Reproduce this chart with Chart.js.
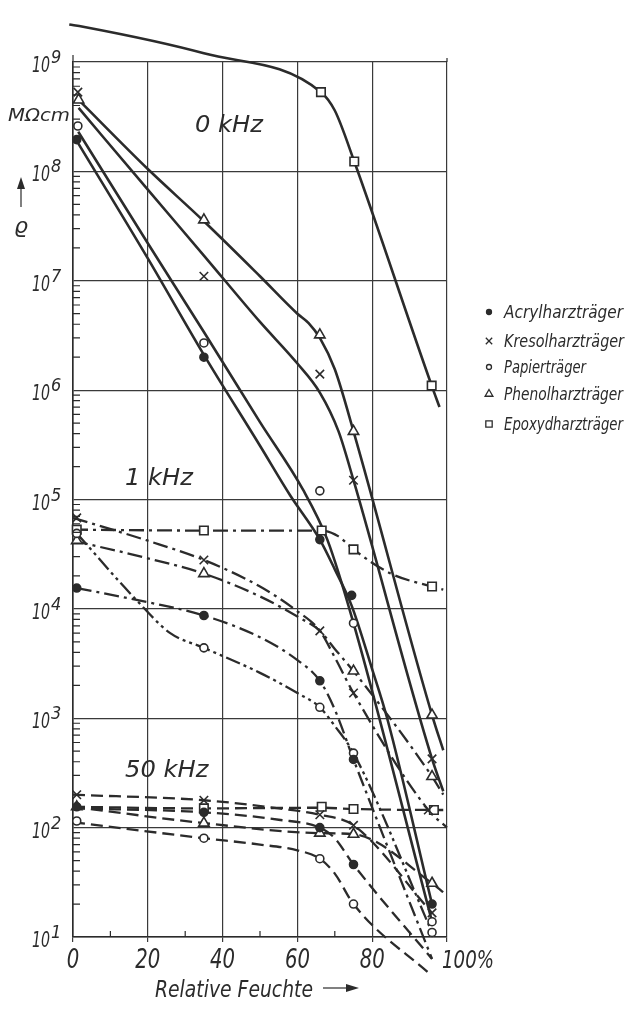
<!DOCTYPE html>
<html>
<head>
<meta charset="utf-8">
<script src="https://cdn.jsdelivr.net/npm/chart.js@4.4.1/dist/chart.umd.min.js"></script>
<style>
  html, body { margin: 0; background: #fff; }
  canvas { display: block; }
</style>
</head>
<body>
<canvas id="chart" width="631" height="1010"></canvas>
<script>
// Achsen
const humidityTicks = [0, 20, 40, 60, 80, 100];
const humidityLabels = ['0', '20', '40', '60', '80', '100%'];
const minorHumidity = [10, 30, 50, 70, 90];
const decadeExponents = [1, 2, 3, 4, 5, 6, 7, 8, 9];
const minorFactors = [2, 3, 4, 5, 6, 7, 8, 9];

const materials = ['Acrylharzträger', 'Kresolharzträger', 'Papierträger', 'Phenolharzträger', 'Epoxydharzträger'];

// 0 kHz – Messpunkte [rel. Feuchte %, rho MOhm cm]
const acryl0Pts = [[1, 1.95e8], [35, 2.0e6], [66, 4.3e4], [74.5, 1.33e4], [96, 20]];
const kresol0Pts = [[1.3, 5.3e8], [35, 1.1e7], [66, 1.4e6], [75, 1.5e5], [96, 425]];
const papier0Pts = [[1.3, 2.6e8], [35, 2.7e6], [66, 1.2e5], [75, 7.4e3], [96, 13.8]];
const phenol0Pts = [[1.5, 4.5e8], [35, 3.6e7], [66, 3.2e6], [75, 4.2e5], [96, 1070]];
const epoxy0Pts = [[2.7, 2.1e9], [35, 1.2e9], [66.3, 5.3e8], [75.2, 1.23e8], [95.9, 1.1e6]];

// 0 kHz – Kurvenverlauf
const acryl0Line = [[1, 1.9e8], [20, 1.6e7], [35, 2.1e6], [50, 3.1e5], [58, 1.1e5], [66, 4.3e4], [70, 2.3e4], [74.5, 1.07e4], [80, 2.8e3], [84, 1e3], [96, 20]];
const kresol0Line = [[1.5, 3.8e8], [20, 6.8e7], [35, 1.7e7], [50, 4.2e6], [60, 1.75e6], [66, 9.5e5], [71, 4.2e5], [75, 1.5e5], [96, 425], [99, 215]];
const papier0Line = [[1.4, 2.3e8], [20, 2.2e7], [35, 3.4e6], [50, 5.1e5], [61.5, 1.23e5], [68, 4.3e4], [75, 7.4e3], [96, 13.8]];
const phenol0Line = [[1.5, 4.5e8], [20, 1.05e8], [35, 3.5e7], [50, 1.1e7], [60, 5.0e6], [63, 4.1e6], [66, 3.0e6], [70, 1.55e6], [75, 4.2e5], [96, 1070], [99, 510]];
const epoxy0Line = [[-1, 2.2e9], [2.7, 2.1e9], [35, 1.2e9], [66.3, 5.3e8], [70, 3.6e8], [75.2, 1.23e8], [95.9, 1.1e6], [98, 7e5]];

// 1 kHz – Messpunkte
const acryl1Pts = [[1, 1.55e4], [35, 8.7e3], [66, 2.2e3], [75, 420]];
const kresol1Pts = [[1, 6.8e4], [35, 2.8e4], [66, 6.3e3], [75, 1.7e3], [95, 145]];
const papier1Pts = [[1, 4.9e4], [35, 4.4e3], [66, 1.26e3], [75, 480], [96, 11]];
const phenol1Pts = [[1, 4.2e4], [35, 2.1e4], [75, 2.7e3], [96, 293]];
const epoxy1Pts = [[1, 5.3e4], [35, 5.2e4], [66.5, 5.2e4], [75, 3.5e4], [96, 1.6e4]];

// 1 kHz – Kurvenverlauf
const acryl1Line = [[1, 1.55e4], [20, 1.15e4], [35, 8.7e3], [50, 5.5e3], [60, 3.4e3], [66, 2.2e3], [70, 1.2e3], [75, 420], [96, 6.3]];
const kresol1Line = [[0, 6.8e4], [20, 4.2e4], [35, 2.8e4], [50, 1.6e4], [60, 9.5e3], [66, 6.3e3], [70, 3.6e3], [75, 1.7e3], [95, 145], [100, 100]];
const papier1Line = [[1, 4.9e4], [17, 1.2e4], [26, 6.0e3], [35, 4.4e3], [50, 2.6e3], [60, 1.7e3], [66, 1.26e3], [70, 850], [75, 480], [96, 11]];
const phenol1Line = [[0, 4.2e4], [20, 2.9e4], [35, 2.1e4], [50, 1.3e4], [60, 8.5e3], [66, 6.3e3], [70, 4.3e3], [75, 2.7e3], [96, 293], [99, 200]];
const epoxy1Line = [[0, 5.3e4], [35, 5.2e4], [66.5, 5.2e4], [71, 4.6e4], [75, 3.5e4], [85, 2.1e4], [96, 1.6e4], [99, 1.5e4]];

// 50 kHz – Messpunkte
const acryl50Pts = [[1, 155], [35, 138], [66, 100], [75, 46], [96, 6.3]];
const kresol50Pts = [[1, 200], [35, 178], [66, 131], [75, 105], [96, 16.6]];
const papier50Pts = [[1, 115], [35, 80], [66, 52], [75, 20], [96, 4.4]];
const phenol50Pts = [[1, 155], [35, 110], [66, 89], [75, 87], [96, 31]];
const epoxy50Pts = [[35, 150], [66.5, 155], [75, 148], [96.5, 145]];

// 50 kHz – Kurvenverlauf
const acryl50Line = [[0, 150], [35, 138], [55, 118], [66, 100], [70, 80], [75, 46], [96, 6.3]];
const kresol50Line = [[0, 200], [35, 178], [55, 150], [66, 131], [75, 105], [96, 16.6]];
const papier50Line = [[0, 112], [35, 80], [50, 70], [60, 62], [66, 52], [70, 38], [75, 20], [96, 4.4]];
const phenol50Line = [[0, 155], [35, 110], [66, 89], [75, 87], [96, 31], [100, 24]];
const epoxy50Line = [[0, 155], [35, 150], [66.5, 152], [75, 148], [96.5, 145], [99, 145]];

const INK = '#2b2b2b';
const FONT = '"DejaVu Sans", sans-serif';

// Markierung je Werkstoff
const markers = {
  acryl: { pointStyle: 'circle', radius: 4, fill: INK },
  kresol: { pointStyle: 'crossRot', radius: 6, fill: INK },
  papier: { pointStyle: 'circle', radius: 4, fill: '#fff' },
  phenol: { pointStyle: 'triangle', radius: 6, fill: '#fff' },
  epoxy: { pointStyle: 'rect', radius: 6, fill: '#fff' },
};
const legendKeys = ['acryl', 'kresol', 'papier', 'phenol', 'epoxy'];
const legendWidths = [119, 120, 82, 119, 119];

const SOLID = [];
const DASH_DOT = [15, 5, 3, 5];
const DASH_DOT_DOT = [15, 4, 3, 4, 3, 4];
const DASHED = [12, 6];

const series = [
  ['acryl', acryl0Line, acryl0Pts, SOLID],
  ['kresol', kresol0Line, kresol0Pts, SOLID],
  ['papier', papier0Line, papier0Pts, SOLID],
  ['phenol', phenol0Line, phenol0Pts, SOLID],
  ['epoxy', epoxy0Line, epoxy0Pts, SOLID],
  ['acryl', acryl1Line, acryl1Pts, DASH_DOT],
  ['kresol', kresol1Line, kresol1Pts, DASH_DOT],
  ['papier', papier1Line, papier1Pts, DASH_DOT_DOT],
  ['phenol', phenol1Line, phenol1Pts, DASH_DOT],
  ['epoxy', epoxy1Line, epoxy1Pts, DASH_DOT],
  ['acryl', acryl50Line, acryl50Pts, DASHED],
  ['kresol', kresol50Line, kresol50Pts, DASHED],
  ['papier', papier50Line, papier50Pts, DASHED],
  ['phenol', phenol50Line, phenol50Pts, DASHED],
  ['epoxy', epoxy50Line, epoxy50Pts, DASHED],
];

function toXY(arr) {
  return arr.map(([x, y]) => ({ x, y }));
}

const datasets = [];
series.forEach(([key, line, pts, dash]) => {
  datasets.push({
    data: toXY(line),
    showLine: true,
    borderColor: INK,
    borderWidth: dash.length ? 2.3 : 2.6,
    borderDash: dash,
    pointRadius: 0,
    cubicInterpolationMode: 'monotone',
    clip: false,
    order: 2,
  });
  const m = markers[key];
  datasets.push({
    data: toXY(pts),
    showLine: false,
    pointStyle: m.pointStyle,
    pointRadius: m.radius,
    pointBackgroundColor: m.fill,
    pointBorderColor: INK,
    pointBorderWidth: 1.6,
    clip: false,
    order: 1,
  });
});

// schmale Schrift wie Normschrift: horizontal gestaucht
function squeeze(ctx, str, size, width) {
  ctx.font = 'italic ' + size + 'px ' + FONT;
  return width / ctx.measureText(str).width;
}

function drawText(ctx, str, x, y, size, sx, align) {
  ctx.save();
  ctx.font = 'italic ' + size + 'px ' + FONT;
  ctx.textAlign = align || 'left';
  ctx.textBaseline = 'alphabetic';
  ctx.translate(x, y);
  ctx.scale(sx, 1);
  ctx.fillText(str, 0, 0);
  ctx.restore();
}

// Beschriftung, Nebenteilstriche, Legende
const decorPlugin = {
  id: 'decor',
  afterDraw(chart) {
    const { ctx, chartArea } = chart;
    const xs = chart.scales.x;
    const ys = chart.scales.y;
    ctx.save();
    ctx.strokeStyle = INK;
    ctx.fillStyle = INK;
    ctx.lineWidth = 1.2;

    // Nebenteilstriche y
    ctx.beginPath();
    decadeExponents.slice(0, -1).forEach((e) => {
      minorFactors.forEach((f) => {
        const y = ys.getPixelForValue(f * Math.pow(10, e));
        ctx.moveTo(chartArea.left, y);
        ctx.lineTo(chartArea.left + 7, y);
      });
    });
    // Nebenteilstriche x
    minorHumidity.forEach((h) => {
      const x = xs.getPixelForValue(h);
      ctx.moveTo(x, chartArea.bottom);
      ctx.lineTo(x, chartArea.bottom - 6);
    });
    // Achsenverlängerung oben
    ctx.moveTo(chartArea.left, chartArea.top);
    ctx.lineTo(chartArea.left, chartArea.top - 7);
    ctx.moveTo(chartArea.right, chartArea.top);
    ctx.lineTo(chartArea.right, chartArea.top - 4);
    ctx.stroke();

    // y-Beschriftung 10^n
    const sxTen = squeeze(ctx, '10', 21, 18);
    decadeExponents.forEach((e) => {
      const y = ys.getPixelForValue(Math.pow(10, e));
      drawText(ctx, '10', 50, y + 10, 21, sxTen, 'right');
      drawText(ctx, String(e), 51, y + 1, 17, 0.95, 'left');
    });

    // x-Beschriftung
    const sxNum = squeeze(ctx, '20', 27, 25);
    humidityTicks.forEach((v, i) => {
      const x = xs.getPixelForValue(v);
      const last = i === humidityTicks.length - 1;
      drawText(ctx, humidityLabels[i], last ? x - 5 : x, 968, last ? 25 : 27, sxNum, last ? 'left' : 'center');
    });

    // Einheit und Formelzeichen
    drawText(ctx, 'MΩcm', 8, 121, 18, squeeze(ctx, 'MΩcm', 18, 62));
    ctx.beginPath();
    ctx.moveTo(21, 207);
    ctx.lineTo(21, 186);
    ctx.stroke();
    ctx.beginPath();
    ctx.moveTo(21, 177);
    ctx.lineTo(17, 189);
    ctx.lineTo(25, 189);
    ctx.closePath();
    ctx.fill();
    drawText(ctx, 'ϱ', 21, 233, 22, 1, 'center');

    // Frequenzangaben
    const sxTitle = squeeze(ctx, '0 kHz', 23, 68);
    drawText(ctx, '0 kHz', 195, 132, 23, sxTitle);
    drawText(ctx, '1 kHz', 125, 485, 23, sxTitle);
    drawText(ctx, '50 kHz', 125, 777, 23, sxTitle);

    // x-Titel
    drawText(ctx, 'Relative Feuchte', 155, 997, 23, squeeze(ctx, 'Relative Feuchte', 23, 158));
    ctx.beginPath();
    ctx.moveTo(323, 988);
    ctx.lineTo(348, 988);
    ctx.stroke();
    ctx.beginPath();
    ctx.moveTo(359, 988);
    ctx.lineTo(346, 984);
    ctx.lineTo(346, 992);
    ctx.closePath();
    ctx.fill();

    // Legende
    const rowY = [312, 341, 367, 394, 424];
    legendKeys.forEach((key, i) => {
      const m = markers[key];
      ctx.fillStyle = m.fill;
      ctx.strokeStyle = INK;
      ctx.lineWidth = 1.3;
      Chart.helpers.drawPoint(ctx, {
        pointStyle: m.pointStyle,
        radius: m.radius - 1.5,
        rotation: 0,
        borderWidth: 1.3,
      }, 489, rowY[i]);
      ctx.fillStyle = INK;
      drawText(ctx, materials[i], 504, rowY[i] + 6, 18, squeeze(ctx, materials[i], 18, legendWidths[i]));
    });
    ctx.restore();
  },
};

new Chart(document.getElementById('chart'), {
  type: 'scatter',
  data: { datasets },
  plugins: [decorPlugin],
  options: {
    responsive: false,
    animation: false,
    layout: { padding: { left: 0, right: 184, top: 62, bottom: 0 } },
    plugins: {
      legend: { display: false },
      tooltip: { enabled: false },
    },
    scales: {
      x: {
        type: 'linear',
        min: 0,
        max: 100,
        afterBuildTicks: (s) => { s.ticks = humidityTicks.map((v) => ({ value: v })); },
        afterFit: (s) => { s.height = 73; },
        grid: { color: '#3a3a3a', lineWidth: 1.2, drawTicks: true, tickLength: 5 },
        border: { color: INK, width: 1.6 },
        ticks: { display: false },
      },
      y: {
        type: 'logarithmic',
        min: 10,
        max: 1e9,
        afterBuildTicks: (s) => { s.ticks = decadeExponents.map((e) => ({ value: Math.pow(10, e) })); },
        afterFit: (s) => { s.width = 73; },
        grid: { color: '#3a3a3a', lineWidth: 1.2, drawTicks: false },
        border: { color: INK, width: 1.6 },
        ticks: { display: false },
      },
    },
  },
});
</script>
</body>
</html>
